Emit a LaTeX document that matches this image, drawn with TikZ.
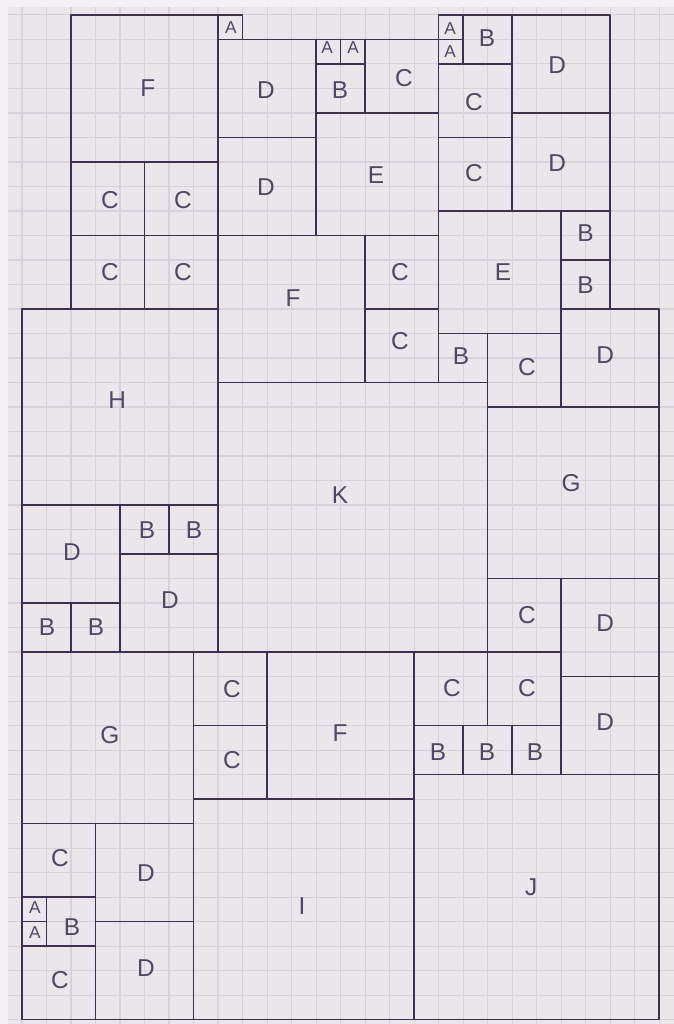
\documentclass[tikz,border=0pt]{standalone}
\usepackage{fontspec}
\setmainfont{Liberation Sans}
\definecolor{paper}{HTML}{EAE6EC}
\definecolor{margin}{HTML}{F3F1F4}
\definecolor{gridc}{HTML}{D7D1DA}
\definecolor{ink}{HTML}{3C3250}
\definecolor{txt}{HTML}{4E4862}
\tikzset{
  sqline/.style={draw=ink, line width=1.2pt, line join=round, line cap=round},
  gridline/.style={draw=gridc, line width=0.7pt},
  lbl/.style={text=txt, font=\fontsize{17}{17}\selectfont, inner sep=0pt},
  lbls/.style={text=txt, font=\fontsize{12}{12}\selectfont, inner sep=0pt},
}
\newcommand{\sqr}[3]{\draw[sqline] (#1,#2) rectangle ++(#3,#3);}
\begin{document}
\begin{tikzpicture}[x=0.6cm,y=-0.6cm]
\useasboundingbox (-0.898,-0.612) rectangle (26.612,41.184);
\fill[margin] (-0.898,-0.612) rectangle (26.612,41.184);
\fill[paper] (-0.571,-0.327) rectangle (26.612,41.184);
\foreach \i in {0,...,26} \draw[gridline] (\i,-0.327) -- (\i,41.184);
\foreach \j in {0,...,41} \draw[gridline] (-0.571,\j) -- (26.612,\j);
% squares
\sqr{2}{0}{6} \sqr{8}{0}{1} \sqr{8}{1}{4} \sqr{12}{1}{1} \sqr{13}{1}{1}
\sqr{12}{2}{2} \sqr{14}{1}{3} \sqr{12}{4}{5} \sqr{8}{5}{4}
\sqr{17}{0}{1} \sqr{17}{1}{1} \sqr{18}{0}{2} \sqr{20}{0}{4}
\sqr{17}{2}{3} \sqr{17}{5}{3} \sqr{20}{4}{4} \sqr{17}{8}{5}
\sqr{22}{8}{2} \sqr{22}{10}{2} \sqr{22}{12}{4} \sqr{17}{13}{2} \sqr{19}{13}{3}
\sqr{14}{9}{3} \sqr{14}{12}{3} \sqr{8}{9}{6}
\sqr{2}{6}{3} \sqr{5}{6}{3} \sqr{2}{9}{3} \sqr{5}{9}{3}
\sqr{0}{12}{8} \sqr{8}{15}{11} \sqr{19}{16}{7}
\sqr{0}{20}{4} \sqr{4}{20}{2} \sqr{6}{20}{2} \sqr{4}{22}{4} \sqr{0}{24}{2} \sqr{2}{24}{2}
\sqr{19}{23}{3} \sqr{22}{23}{4} \sqr{22}{27}{4}
\sqr{16}{26}{3} \sqr{19}{26}{3} \sqr{16}{29}{2} \sqr{18}{29}{2} \sqr{20}{29}{2}
\sqr{10}{26}{6} \sqr{7}{26}{3} \sqr{7}{29}{3} \sqr{0}{26}{7}
\sqr{16}{31}{10} \sqr{7}{32}{9}
\sqr{0}{33}{3} \sqr{3}{33}{4} \sqr{0}{36}{1} \sqr{0}{37}{1} \sqr{1}{36}{2} \sqr{3}{37}{4} \sqr{0}{38}{3}
% labels
\node[lbl] (lF1) at (5.14,2.98) {F};
\node[lbls] (lA1) at (8.53,0.53) {A};
\node[lbl] (lD1) at (9.96,3.06) {D};
\node[lbls] (lA2) at (12.45,1.35) {A};
\node[lbls] (lA3) at (13.51,1.35) {A};
\node[lbl] (lB1) at (12.98,3.06) {B};
\node[lbl] (lC1) at (15.59,2.57) {C};
\node[lbl] (lE1) at (14.45,6.53) {E};
\node[lbl] (lD2) at (9.96,7.02) {D};
\node[lbls] (lA4) at (17.47,0.55) {A};
\node[lbls] (lA5) at (17.47,1.51) {A};
\node[lbl] (lB2) at (18.98,0.95) {B};
\node[lbl] (lD3) at (21.84,2.04) {D};
\node[lbl] (lC2) at (18.45,3.55) {C};
\node[lbl] (lC3) at (18.45,6.45) {C};
\node[lbl] (lD4) at (21.84,6.04) {D};
\node[lbl] (lE2) at (19.63,10.49) {E};
\node[lbl] (lB3) at (23.0,8.90) {B};
\node[lbl] (lB4) at (23.0,11.02) {B};
\node[lbl] (lD5) at (23.80,13.88) {D};
\node[lbl] (lB5) at (17.92,13.92) {B};
\node[lbl] (lC4) at (20.61,14.37) {C};
\node[lbl] (lC5) at (15.43,10.49) {C};
\node[lbl] (lC6) at (15.43,13.30) {C};
\node[lbl] (lF2) at (11.06,11.55) {F};
\node[lbl] (lC7) at (3.59,7.55) {C};
\node[lbl] (lC8) at (6.57,7.55) {C};
\node[lbl] (lC9) at (3.59,10.49) {C};
\node[lbl] (lC10) at (6.57,10.49) {C};
\node[lbl] (lH) at (3.88,15.71) {H};
\node[lbl] (lK) at (12.98,19.59) {K};
\node[lbl] (lG1) at (22.41,19.10) {G};
\node[lbl] (lD6) at (2.04,21.92) {D};
\node[lbl] (lB6) at (5.10,21.02) {B};
\node[lbl] (lB7) at (7.02,21.02) {B};
\node[lbl] (lD7) at (6.04,23.88) {D};
\node[lbl] (lB8) at (1.02,24.98) {B};
\node[lbl] (lB9) at (3.02,24.98) {B};
\node[lbl] (lC11) at (20.61,24.49) {C};
\node[lbl] (lD8) at (23.80,24.82) {D};
\node[lbl] (lC12) at (17.55,27.47) {C};
\node[lbl] (lC13) at (20.61,27.47) {C};
\node[lbl] (lD9) at (23.80,28.86) {D};
\node[lbl] (lB10) at (16.98,30.08) {B};
\node[lbl] (lB11) at (18.98,30.08) {B};
\node[lbl] (lB12) at (20.94,30.08) {B};
\node[lbl] (lF3) at (12.98,29.31) {F};
\node[lbl] (lC14) at (8.57,27.51) {C};
\node[lbl] (lC15) at (8.57,30.41) {C};
\node[lbl] (lG2) at (3.59,29.39) {G};
\node[lbl] (lJ) at (20.78,35.59) {J};
\node[lbl] (lI) at (11.43,36.37) {I};
\node[lbl] (lC16) at (1.55,34.41) {C};
\node[lbl] (lD10) at (5.06,35.02) {D};
\node[lbls] (lA6) at (0.53,36.45) {A};
\node[lbls] (lA7) at (0.53,37.45) {A};
\node[lbl] (lB13) at (2.04,37.22) {B};
\node[lbl] (lD11) at (5.06,38.90) {D};
\node[lbl] (lC17) at (1.55,39.39) {C};
\end{tikzpicture}
\end{document}
